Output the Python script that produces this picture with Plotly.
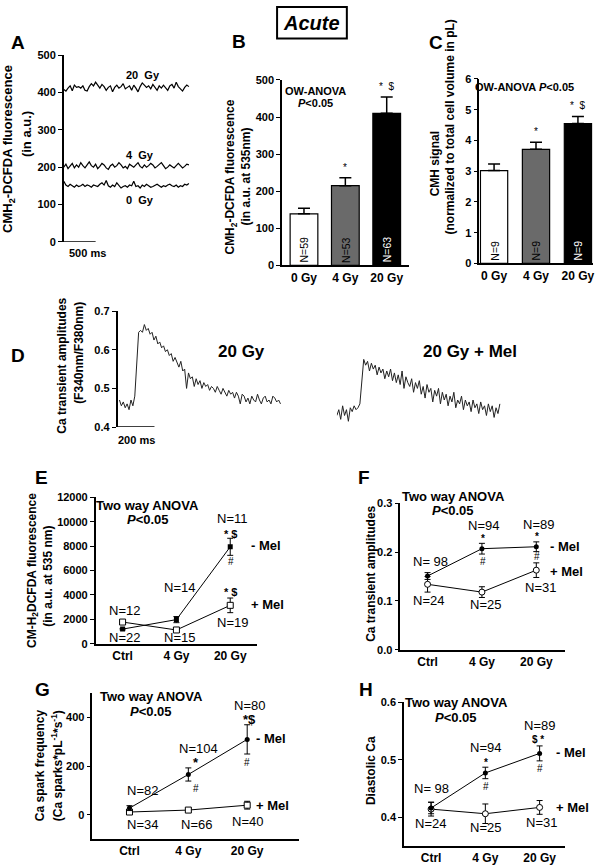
import plotly.graph_objects as go

# ---------------- data ----------------
doses = ["0 Gy", "4 Gy", "20 Gy"]
groups = ["Ctrl", "4 Gy", "20 Gy"]

# Panel A: CMH2-DCFDA fluorescence traces (a.u.), sampled every a_dt_ms
a_dt_ms = 33.3
a_trace_20gy = [408, 404, 412, 418, 405, 420, 414, 416, 412, 418, 406, 404, 416, 424, 418, 428, 420, 412,
                422, 416, 406, 414, 418, 402, 414, 420, 412, 416, 424, 410, 414, 418, 406, 420, 412, 402,
                416, 426, 420, 414, 418, 410, 422, 412, 406, 418, 412, 420, 414, 406, 418, 422, 412, 428,
                416, 410, 404, 414, 420, 416]
a_trace_4gy = [200, 208, 196, 204, 210, 198, 206, 200, 212, 204, 198, 206, 214, 204, 200, 208, 196, 202,
               210, 206, 198, 194, 204, 208, 200, 204, 212, 206, 198, 202, 196, 208, 204, 200, 206, 212,
               202, 198, 206, 200, 204, 210, 206, 198, 202, 208, 212, 204, 196, 200, 206, 202, 198, 204,
               210, 204, 198, 202, 208, 206]
a_trace_0gy = [162, 152, 148, 154, 150, 146, 152, 148, 150, 154, 148, 152, 150, 146, 152, 150, 148, 154,
               158, 152, 164, 150, 146, 152, 148, 158, 150, 144, 148, 150, 146, 152, 150, 162, 148, 150,
               144, 152, 148, 154, 150, 146, 148, 152, 154, 150, 146, 150, 148, 152, 154, 150, 148, 152,
               146, 150, 148, 154, 152, 156]
a_labels = ["20  Gy", "4  Gy", "0  Gy"]

# Panel B
b_mean = [139, 215, 410]
b_sem = [15, 21, 44]
b_n = ["N=59", "N=53", "N=63"]
b_sig = ["", "*", "*  $"]

# Panel C
c_mean = [3.02, 3.71, 4.55]
c_sem = [0.21, 0.23, 0.23]
c_n = ["N=9", "N=9", "N=9"]
c_sig = ["", "*", "*  $"]

# Panel D: Ca transients (F340/F380), sampled every d_dt_ms
d_dt_ms = 10.4
d_trace_20gy = [0.47, 0.455, 0.465, 0.45, 0.46, 0.445, 0.47, 0.455, 0.48, 0.55, 0.645, 0.65, 0.645, 0.665,
                0.65, 0.655, 0.64, 0.645, 0.625, 0.635, 0.615, 0.62, 0.605, 0.61, 0.595, 0.60, 0.585, 0.59,
                0.57, 0.58, 0.565, 0.555, 0.57, 0.545, 0.55, 0.50, 0.54, 0.525, 0.53, 0.505, 0.525, 0.51,
                0.52, 0.50, 0.515, 0.505, 0.51, 0.495, 0.505, 0.50, 0.49, 0.505, 0.495, 0.485, 0.50, 0.49,
                0.48, 0.495, 0.485, 0.49, 0.475, 0.49, 0.48, 0.46, 0.485, 0.48, 0.465, 0.475, 0.46, 0.48,
                0.47, 0.465, 0.485, 0.47, 0.46, 0.475, 0.48, 0.465, 0.47, 0.46, 0.48, 0.475, 0.465, 0.47,
                0.46]
d_trace_20gy_mel = [0.43, 0.445, 0.42, 0.455, 0.43, 0.445, 0.415, 0.45, 0.44, 0.455, 0.445, 0.45, 0.46,
                    0.53, 0.575, 0.56, 0.57, 0.545, 0.565, 0.55, 0.56, 0.535, 0.555, 0.54, 0.55, 0.525,
                    0.545, 0.53, 0.55, 0.52, 0.54, 0.515, 0.535, 0.51, 0.545, 0.50, 0.53, 0.515, 0.505,
                    0.525, 0.49, 0.515, 0.50, 0.52, 0.485, 0.505, 0.475, 0.51, 0.49, 0.50, 0.465, 0.495,
                    0.48, 0.50, 0.46, 0.49, 0.47, 0.485, 0.455, 0.48, 0.465, 0.49, 0.45, 0.47, 0.46, 0.48,
                    0.445, 0.47, 0.455, 0.465, 0.44, 0.47, 0.45, 0.46, 0.435, 0.465, 0.445, 0.455, 0.43,
                    0.46, 0.44, 0.455, 0.425, 0.45, 0.435, 0.46]

# Panel E: CM-H2DCFDA fluorescence
e_minus = [1200, 1980, 7950]
e_minus_sem = [60, 250, 700]
e_plus = [1780, 1130, 3150]
e_plus_sem = [60, 80, 600]

# Panel F: Ca transient amplitudes
f_minus = [0.151, 0.207, 0.211]
f_minus_sem = [0.007, 0.011, 0.010]
f_plus = [0.134, 0.118, 0.163]
f_plus_sem = [0.016, 0.011, 0.015]

# Panel G: Ca spark frequency
g_minus = [28, 166, 310]
g_minus_sem = [10, 27, 60]
g_plus = [12, 20, 40]
g_plus_sem = [5, 5, 16]

# Panel H: Diastolic Ca
h_minus = [0.416, 0.477, 0.511]
h_minus_sem = [0.010, 0.010, 0.013]
h_plus = [0.414, 0.406, 0.417]
h_plus_sem = [0.012, 0.017, 0.012]

# ---------------- layout helpers ----------------
W, H = 602, 868
FONT = "Arial, Liberation Sans, Helvetica, sans-serif"


def dx(x0, x1):
    return [x0 / W, x1 / W]


def dy(y0, y1):
    return [1 - y1 / H, 1 - y0 / H]


annotations = []
shapes = []


def ann(x, y, text, size=12, bold=False, angle=0, color="black", xref="paper", yref="paper",
        xanchor="center", yanchor="middle", family=FONT):
    if xref == "paper":
        x = x / W
    if yref == "paper":
        y = 1 - y / H
    annotations.append(dict(
        x=x, y=y, xref=xref, yref=yref, text=("<b>%s</b>" % text) if bold else text,
        showarrow=False, textangle=angle, xanchor=xanchor, yanchor=yanchor,
        font=dict(family=family, size=size, color=color)))


fig = go.Figure()

# ---- Panel A ----
for tr in (a_trace_20gy, a_trace_4gy, a_trace_0gy):
    fig.add_trace(go.Scatter(x=[i * a_dt_ms for i in range(len(tr))], y=tr, mode="lines",
                             line=dict(color="black", width=1.2), xaxis="x", yaxis="y",
                             showlegend=False, hoverinfo="skip"))

# ---- Panel B ----
fig.add_trace(go.Bar(x=doses, y=b_mean, width=0.67, xaxis="x2", yaxis="y2",
                     marker=dict(color=["white", "#6a6a6a", "black"], line=dict(color="black", width=1.2)),
                     error_y=dict(type="data", symmetric=False, array=b_sem, arrayminus=[0, 0, 0],
                                  color="black", thickness=1.5, width=6),
                     showlegend=False))

# ---- Panel C ----
fig.add_trace(go.Bar(x=doses, y=c_mean, width=0.65, xaxis="x3", yaxis="y3",
                     marker=dict(color=["white", "#6a6a6a", "black"], line=dict(color="black", width=1.2)),
                     error_y=dict(type="data", symmetric=False, array=c_sem, arrayminus=[0, 0, 0],
                                  color="black", thickness=1.5, width=6),
                     showlegend=False))

# ---- Panel D ----
fig.add_trace(go.Scatter(x=[i * d_dt_ms for i in range(len(d_trace_20gy))], y=d_trace_20gy, mode="lines",
                         line=dict(color="#222", width=1), xaxis="x4", yaxis="y4", showlegend=False))
fig.add_trace(go.Scatter(x=[i * d_dt_ms for i in range(len(d_trace_20gy_mel))], y=d_trace_20gy_mel,
                         mode="lines", line=dict(color="#222", width=1), xaxis="x5", yaxis="y5",
                         showlegend=False))


# ---- Panels E-H ----
def add_pair(ax, ay, minus, minus_sem, plus, plus_sem, sym_minus, sym_plus):
    fig.add_trace(go.Scatter(x=groups, y=plus, mode="lines+markers", xaxis=ax, yaxis=ay,
                             line=dict(color="black", width=1),
                             marker=dict(symbol=sym_plus, size=6, color="white",
                                         line=dict(color="black", width=1)),
                             error_y=dict(type="data", array=plus_sem, color="black", thickness=1, width=3),
                             showlegend=False))
    fig.add_trace(go.Scatter(x=groups, y=minus, mode="lines+markers", xaxis=ax, yaxis=ay,
                             line=dict(color="black", width=1),
                             marker=dict(symbol=sym_minus, size=5, color="black"),
                             error_y=dict(type="data", array=minus_sem, color="black", thickness=1, width=3),
                             showlegend=False))


add_pair("x6", "y6", e_minus, e_minus_sem, e_plus, e_plus_sem, "square", "square")
add_pair("x7", "y7", f_minus, f_minus_sem, f_plus, f_plus_sem, "circle", "circle")
add_pair("x8", "y8", g_minus, g_minus_sem, g_plus, g_plus_sem, "circle", "square")
add_pair("x9", "y9", h_minus, h_minus_sem, h_plus, h_plus_sem, "circle", "circle")

# ---------------- axes ----------------
tickfont = dict(family=FONT, size=11, color="black", weight="bold")
xtickfont = dict(family=FONT, size=12, color="black", weight="bold")


def yax(domain, rng, anchor, dtick=None, tickvals=None, fmt=None, visible=True):
    d = dict(domain=domain, range=rng, anchor=anchor, showgrid=False, zeroline=False,
             showline=visible, linecolor="black", linewidth=1.5, ticks="outside" if visible else "",
             ticklen=4, tickwidth=1.2, tickcolor="black", tickfont=tickfont, showticklabels=visible,
             fixedrange=True)
    if dtick is not None:
        d["dtick"] = dtick
        d["tick0"] = rng[0]
    if tickvals is not None:
        d["tickvals"] = tickvals
    if fmt:
        d["tickformat"] = fmt
    return d


def xax(domain, rng, anchor, labels=True, line=True, cat=True):
    d = dict(domain=domain, range=rng, anchor=anchor, showgrid=False, zeroline=False,
             showline=line, linecolor="black", linewidth=1.5, ticks="", tickfont=xtickfont,
             showticklabels=labels, fixedrange=True)
    if cat:
        d["type"] = "category"
    return d


layout = dict(
    width=W, height=H, margin=dict(l=0, r=0, t=0, b=0),
    paper_bgcolor="white", plot_bgcolor="white", showlegend=False,
    font=dict(family=FONT, color="black"),
    # A
    xaxis=xax(dx(64, 195), [0, 2050], "y", labels=False, line=False, cat=False),
    yaxis=yax(dy(50, 239), [0, 500], "x", dtick=100),
    # B
    xaxis2=xax(dx(283, 410), [-0.53, 2.53], "y2"),
    yaxis2=yax(dy(75, 263), [0, 500], "x2", dtick=100),
    # C
    xaxis3=xax(dx(481, 595), [-0.35, 2.36], "y3"),
    yaxis3=yax(dy(74, 261), [0, 6], "x3", dtick=1),
    # D
    xaxis4=xax(dx(118, 284.5), [-10, 890], "y4", labels=False, line=False, cat=False),
    yaxis4=yax(dy(309.3, 427), [0.4, 0.7], "x4", dtick=0.1, fmt=".1f"),
    xaxis5=xax(dx(338, 504.5), [0, 900], "y5", labels=False, line=False, cat=False),
    yaxis5=yax(dy(309.3, 427), [0.4, 0.7], "x5", visible=False),
    # E
    xaxis6=xax(dx(96, 258), [-0.5, 2.5], "y6"),
    yaxis6=yax(dy(498.3, 646.7), [0, 12000], "x6", dtick=2000, fmt="d"),
    # F
    xaxis7=xax(dx(401.7, 567), [-0.5, 2.53], "y7"),
    yaxis7=yax(dy(504.3, 652.7), [0, 0.3], "x7", dtick=0.1, fmt=".1f"),
    # G
    xaxis8=xax(dx(92.7, 300), [-0.63, 2.88], "y8"),
    yaxis8=yax(dy(696.7, 845), [-100, 500], "x8", tickvals=[0, 200, 400]),
    # H
    xaxis9=xax(dx(405.3, 567), [-0.5, 2.47], "y9"),
    yaxis9=yax(dy(706, 851.7), [0.35, 0.6], "x9", tickvals=[0.4, 0.5, 0.6], fmt=".1f"),
)

# ---------------- scale bars & box ----------------
shapes.append(dict(type="line", xref="x", yref="y", x0=0, x1=500, y0=0, y1=0,
                   line=dict(color="black", width=1.5)))
shapes.append(dict(type="line", xref="x4", yref="y4", x0=-10, x1=190, y0=0.4, y1=0.4,
                   line=dict(color="black", width=1.5)))
shapes.append(dict(type="rect", xref="paper", yref="paper", x0=278 / W, x1=348 / W,
                   y0=1 - 33 / H, y1=1 - 1 / H, line=dict(color="black", width=2), fillcolor="white",
                   layer="below"))

# ---------------- text ----------------
ann(313, 17, "<i>Acute</i>", size=20, bold=True)

# panel letters
for (lx, ly, letter) in [(18, 37, "A"), (240, 36, "B"), (437, 37, "C"), (18, 354, "D"),
                         (42, 478, "E"), (365, 478, "F"), (43, 693, "G"), (367, 693, "H")]:
    ann(lx, ly, letter, size=19, bold=True)

# A
ann(9, 145, "CMH<sub>2</sub>-DCFDA fluorescence", size=13, bold=True, angle=-90)
ann(26, 130, "(in a.u.)", size=13, bold=True, angle=-90)
ann(143, 70, a_labels[0], size=11, bold=True)
ann(140, 151, a_labels[1], size=11, bold=True)
ann(140, 197, a_labels[2], size=11, bold=True)
ann(88, 250, "500 ms", size=11, bold=True)

# B
ann(231.7, 173, "CMH<sub>2</sub>-DCFDA fluorescence", size=12, bold=True, angle=-90)
ann(246.7, 173, "(in a.u. at 535nm)", size=12, bold=True, angle=-90)
ann(316.7, 86, "OW-ANOVA", size=11, bold=True)
ann(316.7, 98, "<i>P</i>&lt;0.05", size=11, bold=True)
for i, d in enumerate(doses):
    ann(d, 247, b_n[i], size=10.5, angle=-90, color="white" if i == 2 else "black", xref="x2")
    if b_sig[i]:
        ann(d, b_mean[i] + b_sem[i] + 8, b_sig[i], size=10, xref="x2", yref="y2", yanchor="bottom")

# C
ann(436, 160, "CMH signal", size=12, bold=True, angle=-90)
ann(451.7, 123, "(normalized to total cell volume in pL)", size=12, bold=True, angle=-90)
ann(526, 82, "OW-ANOVA <i>P</i>&lt;0.05", size=11, bold=True)
for i, d in enumerate(doses):
    ann(d, 248, c_n[i], size=10.5, angle=-90, color="white" if i == 2 else "black", xref="x3")
    if c_sig[i]:
        ann(d, c_mean[i] + c_sem[i] + 0.1, c_sig[i], size=10, xref="x3", yref="y3", yanchor="bottom")

# D
ann(62, 365, "Ca transient amplitudes", size=12, bold=True, angle=-90)
ann(79, 352, "(F340nm/F380nm)", size=12, bold=True, angle=-90)
ann(137, 440, "200 ms", size=11, bold=True)
ann(242, 350, "20 Gy", size=17, bold=True)
ann(472, 350, "20 Gy + Mel", size=17, bold=True)

# E
ann(33, 572, "CM-H<sub>2</sub>DCFDA fluorescence", size=12, bold=True, angle=-90)
ann(48, 578, "(in a.u. at 535 nm)", size=12, bold=True, angle=-90)
ann(148, 506, "Two way ANOVA", size=13, bold=True)
ann(148, 521, "<i>P</i>&lt;0.05", size=13, bold=True)
for (x, y, t) in [(125, 613, "N=12"), (125, 640, "N=22"), (180, 590, "N=14"), (180, 640, "N=15"),
                  (233, 520, "N=11"), (233, 625, "N=19")]:
    ann(x, y, t, size=13)
ann(231, 535, "* $", size=11, bold=True)
ann(231.7, 563, "#", size=10)
ann(231, 594, "* $", size=11, bold=True)
ann(250, 547, "- Mel", size=13, bold=True, xanchor="left")
ann(250, 607, "+ Mel", size=13, bold=True, xanchor="left")

# F
ann(372, 576, "Ca transient amplitudes", size=12, bold=True, angle=-90)
ann(455, 497, "Two way ANOVA", size=13, bold=True)
ann(455, 512, "<i>P</i>&lt;0.05", size=13, bold=True)
for (x, y, t) in [(432, 563, "N= 98"), (430, 603, "N=24"), (485, 527, "N=94"), (487, 607, "N=25"),
                  (540, 526, "N=89"), (542, 590, "N=31")]:
    ann(x, y, t, size=13)
ann(484.3, 540, "*", size=10, bold=True)
ann(484.3, 563, "#", size=10)
ann(538.7, 538, "*", size=10, bold=True)
ann(538.7, 558, "#", size=10)
ann(550, 548, "- Mel", size=13, bold=True, xanchor="left")
ann(550, 573, "+ Mel", size=13, bold=True, xanchor="left")

# G
ann(40, 770, "Ca spark frequency", size=12, bold=True, angle=-90)
ann(58, 770, "(Ca sparks*pL<sup>-1</sup>*s<sup>-1</sup>)", size=12, bold=True, angle=-90)
ann(152, 700, "Two way ANOVA", size=13, bold=True)
ann(152, 715, "<i>P</i>&lt;0.05", size=13, bold=True)
for (x, y, t) in [(143, 795, "N=82"), (143, 830, "N=34"), (199, 753, "N=104"), (197, 830, "N=66"),
                  (250, 709, "N=80"), (248, 827, "N=40")]:
    ann(x, y, t, size=13)
ann(196.7, 767, "*", size=13, bold=True)
ann(196.7, 793, "#", size=10)
ann(250, 724, "*$", size=13, bold=True)
ann(248.3, 767, "#", size=10)
ann(255, 743, "- Mel", size=13, bold=True, xanchor="left")
ann(255, 811, "+ Mel", size=13, bold=True, xanchor="left")

# H
ann(373, 775, "Diastolic Ca", size=12, bold=True, angle=-90)
ann(458, 706, "Two way ANOVA", size=13, bold=True)
ann(458, 721, "<i>P</i>&lt;0.05", size=13, bold=True)
for (x, y, t) in [(433, 793, "N= 98"), (432, 829, "N=24"), (487, 752, "N=94"), (487, 833, "N=25"),
                  (541, 730, "N=89"), (543, 828, "N=31")]:
    ann(x, y, t, size=13)
ann(487.3, 767, "*", size=10, bold=True)
ann(487.3, 791, "#", size=10)
ann(540, 744, "$ *", size=10, bold=True)
ann(541.3, 773, "#", size=10)
ann(556, 757, "- Mel", size=13, bold=True, xanchor="left")
ann(556, 813, "+ Mel", size=13, bold=True, xanchor="left")

layout["annotations"] = annotations
layout["shapes"] = shapes
fig.update_layout(**layout)

fig.write_html("out.html", config={"displayModeBar": False},
               post_script="document.body.style.margin='0';document.body.style.padding='0';"
                           "document.body.style.overflow='hidden';"
                           "document.documentElement.style.overflow='hidden';")
